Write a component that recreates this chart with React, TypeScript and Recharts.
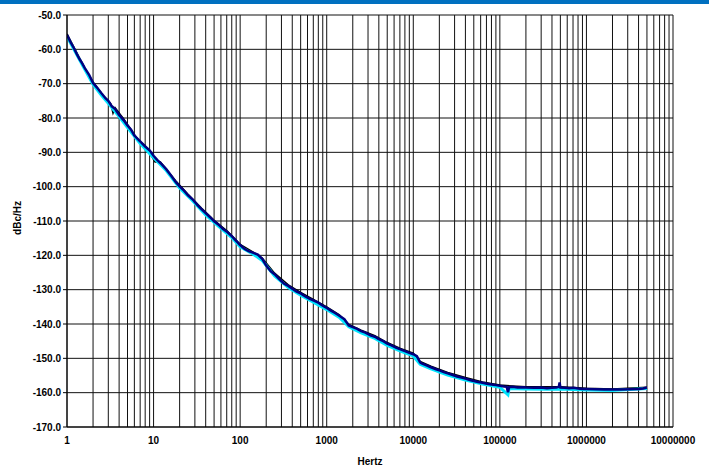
import React from 'react';
import { CartesianGrid, Line, LineChart, XAxis, YAxis } from 'recharts';

// frequency (Hz) and phase noise (dBc/Hz)
const navyHz = [1, 1.1, 1.2, 1.3, 1.4, 1.5, 1.6, 1.8, 2, 2.2, 2.5, 2.8, 3, 3.3, 3.6, 4, 4.5, 5, 5.5, 6, 7, 8, 9,
  10, 11, 12, 14, 16, 18, 20, 22, 25, 28, 32, 36, 40, 45, 50, 56, 63, 71, 80, 90,
  100, 112, 125, 140, 160, 180, 200, 225, 250, 280, 320, 360, 400, 450, 500, 560, 630, 710, 800, 900,
  1000, 1120, 1250, 1400, 1600, 1800, 2000, 2250, 2500, 2800, 3200, 3600, 4000, 4500, 5000, 5600, 6300, 7100, 8000, 9000,
  10000, 11000, 12000, 12500, 14000, 16000, 18000, 20000, 22500, 25000, 28000, 32000, 36000, 40000, 45000, 50000, 56000, 63000, 71000, 80000, 90000,
  100000, 112000, 120000, 124000, 128000, 140000, 160000, 180000, 200000, 250000, 300000, 350000, 400000, 450000, 480000, 490000, 500000, 560000, 630000, 710000, 800000, 900000,
  1000000, 1250000, 1600000, 2000000, 2500000, 3200000, 4000000, 4500000, 5000000];
const navyDb = [-55.8, -57.9, -59.6, -61.4, -62.9, -64.1, -65.4, -67.4, -69.8, -71.0, -72.8, -74.3, -75.0, -76.6, -77.4, -79.1, -80.6, -82.2, -83.4, -85.1, -86.8, -88.3, -89.4,
  -91.0, -92.2, -93.1, -94.9, -96.8, -98.6, -99.9, -100.9, -102.5, -103.6, -105.3, -106.6, -107.7, -108.9, -110.1, -111.0, -112.3, -113.2, -114.4, -115.8,
  -117.0, -118.1, -118.8, -119.2, -119.8, -121.0, -123.0, -124.6, -125.5, -126.8, -128.2, -128.9, -129.7, -130.6, -131.1, -131.9, -132.6, -133.2, -133.8, -134.7,
  -135.3, -136.1, -136.8, -137.6, -138.6, -140.4, -140.9, -141.4, -142.1, -142.5, -143.3, -143.7, -144.4, -145.0, -145.7, -146.2, -146.9, -147.4, -147.9, -148.4,
  -148.8, -149.4, -151.2, -151.5, -152.0, -152.6, -153.1, -153.5, -154.0, -154.4, -154.8, -155.3, -155.6, -155.9, -156.3, -156.6, -156.9, -157.1, -157.4, -157.6, -157.8,
  -158.0, -158.2, -158.3, -159.9, -158.4, -158.3, -158.5, -158.4, -158.5, -158.6, -158.5, -158.7, -158.6, -158.5, -158.3, -157.0, -158.5, -158.6, -158.7, -158.6, -158.8, -158.9,
  -158.9, -159.0, -159.1, -159.1, -159.1, -159.0, -158.9, -158.8, -158.5];

const cyanHz = [1, 1.5, 2, 2.5, 3, 4, 5, 7, 10, 14, 20, 28, 40, 56, 80, 100, 140, 180, 250, 360, 500, 710,
  1000, 1400, 1800, 2500, 3600, 5000, 7100, 10000, 12000, 16000, 25000, 40000, 63000, 100000, 124000, 128000,
  200000, 350000, 500000, 1000000, 2000000, 5000000];
const cyanDb = [-56.3, -64.5, -70.2, -73.4, -75.7, -79.6, -82.8, -87.4, -91.6, -95.3, -100.4, -104.0, -108.2, -111.5, -114.8, -117.5, -119.6, -121.5, -126.0, -129.4, -131.6, -133.7,
  -135.8, -138.1, -140.8, -142.6, -144.2, -146.2, -147.9, -149.3, -151.7, -153.1, -154.9, -156.3, -157.5, -158.4, -160.6, -158.8,
  -158.9, -159.0, -158.9, -159.2, -159.4, -158.8];

const blackHz = [1, 1.3, 1.7, 2, 2.6, 3.2, 3.4, 3.6, 4.5, 6, 6.9, 8, 10.4, 12, 18, 25, 36, 50, 71, 100, 140, 180, 250, 360, 500, 710,
  1000, 1400, 1800, 2500, 3600, 5000, 7100, 10000, 12000, 16000, 25000, 40000, 63000, 100000, 200000, 500000, 1000000, 2000000, 5000000];
const blackDb = [-55.5, -61.0, -66.6, -69.5, -73.4, -75.8, -78.6, -77.0, -80.2, -84.8, -86.9, -88.0, -92.8, -92.8, -98.3, -102.2, -106.3, -109.8, -112.9, -116.8, -119.0, -120.8, -125.2, -128.6, -130.8, -132.9,
  -135.0, -137.3, -140.1, -141.8, -143.4, -145.4, -147.1, -148.5, -150.9, -152.3, -154.1, -155.6, -156.9, -157.8, -158.3, -158.3, -158.7, -158.9, -158.4];

const decadeTicks = [1, 10, 100, 1000, 10000, 100000, 1000000, 10000000];
const dbTicks = [-170, -160, -150, -140, -130, -120, -110, -100, -90, -80, -70, -60, -50];

// minor log grid: 1..9 in every decade
const gridTicks: number[] = [];
decadeTicks.slice(0, -1).forEach((d) => {
  for (let m = 1; m < 10; m++) gridTicks.push(Math.round(d * m));
});
gridTicks.push(10000000);

const toRows = (hz: number[], db: number[]) => hz.map((f, i) => ({ hz: f, db: db[i] }));
const navy = toRows(navyHz, navyDb);
const cyan = toRows(cyanHz, cyanDb);
const black = toRows(blackHz, blackDb);

const tickStyle = { fontSize: 10, fontWeight: 'bold', fill: '#000' };

const App = () => {
  return (
    <div style={{ position: 'absolute', left: 0, top: 0, width: 709, height: 468, background: '#fff', fontFamily: '"Liberation Sans", Arial, sans-serif' }}>
      <div style={{ position: 'absolute', left: 0, top: 0, width: 709, height: 4, background: '#0070C0' }} />
      <LineChart width={709} height={468} margin={{ top: 15, right: 36, bottom: 3, left: 0 }}>
        <CartesianGrid stroke="#111" strokeWidth={1} />
        <XAxis
          dataKey="hz"
          type="number"
          scale="log"
          domain={[1, 10000000]}
          ticks={gridTicks}
          interval={0}
          allowDataOverflow
          tickFormatter={(v: number) => (decadeTicks.includes(v) ? String(v) : '')}
          tick={tickStyle}
          tickLine={false}
          tickSize={4}
          tickMargin={6}
          stroke="#000"
          height={38}
          label={{ value: 'Hertz', position: 'insideBottom', offset: 0, fontSize: 10, fontWeight: 'bold', fill: '#000' }}
        />
        <YAxis
          dataKey="db"
          type="number"
          domain={[-170, -50]}
          ticks={dbTicks}
          interval={0}
          tickFormatter={(v: number) => v.toFixed(1)}
          tick={tickStyle}
          tickSize={4}
          tickMargin={2}
          stroke="#000"
          width={67}
        />
        <Line data={black} dataKey="db" type="linear" stroke="#000" strokeWidth={1.5} dot={false} isAnimationActive={false} />
        <Line data={cyan} dataKey="db" type="linear" stroke="#00E5FF" strokeWidth={3} dot={false} isAnimationActive={false} />
        <Line data={navy} dataKey="db" type="linear" stroke="#000080" strokeWidth={2.5} dot={false} isAnimationActive={false} />
      </LineChart>
      <div style={{ position: 'absolute', left: 17, top: 218, transform: 'translate(-50%, -50%) rotate(-90deg)', fontSize: 10, fontWeight: 'bold', whiteSpace: 'nowrap' }}>
        dBc/Hz
      </div>
    </div>
  );
};

export default App;
